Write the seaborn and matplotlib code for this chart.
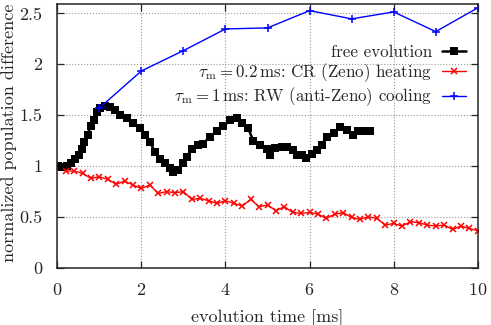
import numpy as np
import pandas as pd
import seaborn as sns
import matplotlib.pyplot as plt
from matplotlib.ticker import FuncFormatter

# free evolution
t_free = [0.02, 0.10, 0.22, 0.32, 0.42, 0.52, 0.58, 0.64, 0.72, 0.79, 0.87, 0.94,
          1.02, 1.13, 1.25, 1.37, 1.49, 1.65, 1.81, 1.97, 2.09, 2.20, 2.32, 2.44,
          2.56, 2.68, 2.76, 2.88, 3.00, 3.08, 3.20, 3.35, 3.47, 3.63, 3.79, 3.95,
          4.11, 4.27, 4.39, 4.54, 4.66, 4.82, 4.98, 5.06, 5.18, 5.34, 5.46, 5.61,
          5.69, 5.81, 5.92, 6.05, 6.17, 6.29, 6.41, 6.57, 6.72, 6.88, 7.04, 7.16,
          7.32, 7.44]
v_free = [1.00, 0.99, 1.00, 1.03, 1.07, 1.11, 1.17, 1.24, 1.30, 1.39, 1.45, 1.53,
          1.57, 1.59, 1.58, 1.55, 1.50, 1.47, 1.42, 1.37, 1.30, 1.24, 1.14, 1.07,
          1.03, 0.98, 0.94, 0.96, 1.03, 1.09, 1.17, 1.21, 1.22, 1.29, 1.34, 1.39,
          1.45, 1.47, 1.42, 1.37, 1.25, 1.21, 1.17, 1.11, 1.18, 1.19, 1.19, 1.16,
          1.11, 1.11, 1.08, 1.12, 1.16, 1.21, 1.29, 1.32, 1.38, 1.35, 1.30, 1.34,
          1.34, 1.34]

# tau_m = 0.2 ms, CR (Zeno) heating
t_cr = [0.2, 0.4, 0.6, 0.8, 1.0, 1.2, 1.4, 1.6, 1.8, 2.0, 2.2, 2.4, 2.6, 2.8, 3.0,
        3.2, 3.4, 3.6, 3.8, 4.0, 4.2, 4.4, 4.6, 4.8, 5.0, 5.2, 5.4, 5.6, 5.8, 6.0,
        6.2, 6.4, 6.6, 6.8, 7.0, 7.2, 7.4, 7.6, 7.8, 8.0, 8.2, 8.4, 8.6, 8.8, 9.0,
        9.2, 9.4, 9.6, 9.8, 10.0]
v_cr = [0.951, 0.951, 0.928, 0.879, 0.895, 0.869, 0.820, 0.853, 0.813, 0.780,
        0.813, 0.731, 0.748, 0.738, 0.748, 0.672, 0.682, 0.659, 0.633, 0.659,
        0.633, 0.607, 0.672, 0.600, 0.617, 0.561, 0.600, 0.544, 0.535, 0.544,
        0.528, 0.485, 0.528, 0.541, 0.495, 0.476, 0.502, 0.485, 0.420, 0.436,
        0.410, 0.453, 0.443, 0.420, 0.410, 0.420, 0.377, 0.410, 0.387, 0.364]

# tau_m = 1 ms, RW (anti-Zeno) cooling
t_rw = [1, 2, 3, 4, 5, 6, 7, 8, 9, 10]
v_rw = [1.57, 1.934, 2.134, 2.347, 2.357, 2.527, 2.446, 2.514, 2.321, 2.554]

labels = ['free evolution',
          r'$\tau_\mathrm{m} = 0.2\,\mathrm{ms}$: CR (Zeno) heating',
          r'$\tau_\mathrm{m} = 1\,\mathrm{ms}$: RW (anti-Zeno) cooling']
x_ticks = [0, 2, 4, 6, 8, 10]
y_ticks = [0, 0.5, 1, 1.5, 2, 2.5]

sns.set_style('ticks')
plt.rcParams['font.family'] = ['cmr10', 'DejaVu Serif']
plt.rcParams['mathtext.fontset'] = 'cm'
plt.rcParams['axes.formatter.use_mathtext'] = True

fig = plt.figure(figsize=(4.91, 3.25), dpi=100)
ax = fig.add_axes([0.1167, 0.176, 0.8563, 0.812])

sns.lineplot(x=t_free, y=v_free, ax=ax, color='black', marker='s', markersize=5.5,
             markeredgewidth=0, linewidth=1.8, label=labels[0])
sns.lineplot(x=t_cr, y=v_cr, ax=ax, color='red', marker='x', markersize=5,
             markeredgecolor='red', markeredgewidth=1.1, linewidth=1.0,
             label=labels[1])
sns.lineplot(x=t_rw, y=v_rw, ax=ax, color='blue', marker='+', markersize=6,
             markeredgecolor='blue', markeredgewidth=1.1, linewidth=1.0,
             label=labels[2])

ax.set_xlim(0, 10)
ax.set_ylim(0, 2.593)
ax.set_xticks(x_ticks)
ax.set_yticks(y_ticks)
ax.yaxis.set_major_formatter(FuncFormatter(lambda v, p: '%g' % v))
ax.tick_params(direction='in', top=True, right=True, length=5, width=0.9,
               labelsize=13)
ax.tick_params(axis='x', pad=10)
ax.tick_params(axis='y', pad=11)
ax.grid(True, linestyle=':', color='#999999', linewidth=0.8)
for s in ax.spines.values():
    s.set_linewidth(1.1)

ax.set_xlabel('evolution time [ms]', fontsize=13, labelpad=8)
ax.set_ylabel('normalized population difference', fontsize=13)
ax.yaxis.set_label_coords(-0.097, 0.51)

leg = ax.legend(loc='upper right', bbox_to_anchor=(0.949, 0.864),
                bbox_transform=fig.transFigure, frameon=False, markerfirst=False,
                fontsize=12.2, handlelength=1.4, handletextpad=0.6,
                labelspacing=0.1, borderpad=0, borderaxespad=0,
                alignment='right')
for t in leg.get_texts():
    t.set_horizontalalignment('right')

fig.savefig('out.png', dpi=100)
